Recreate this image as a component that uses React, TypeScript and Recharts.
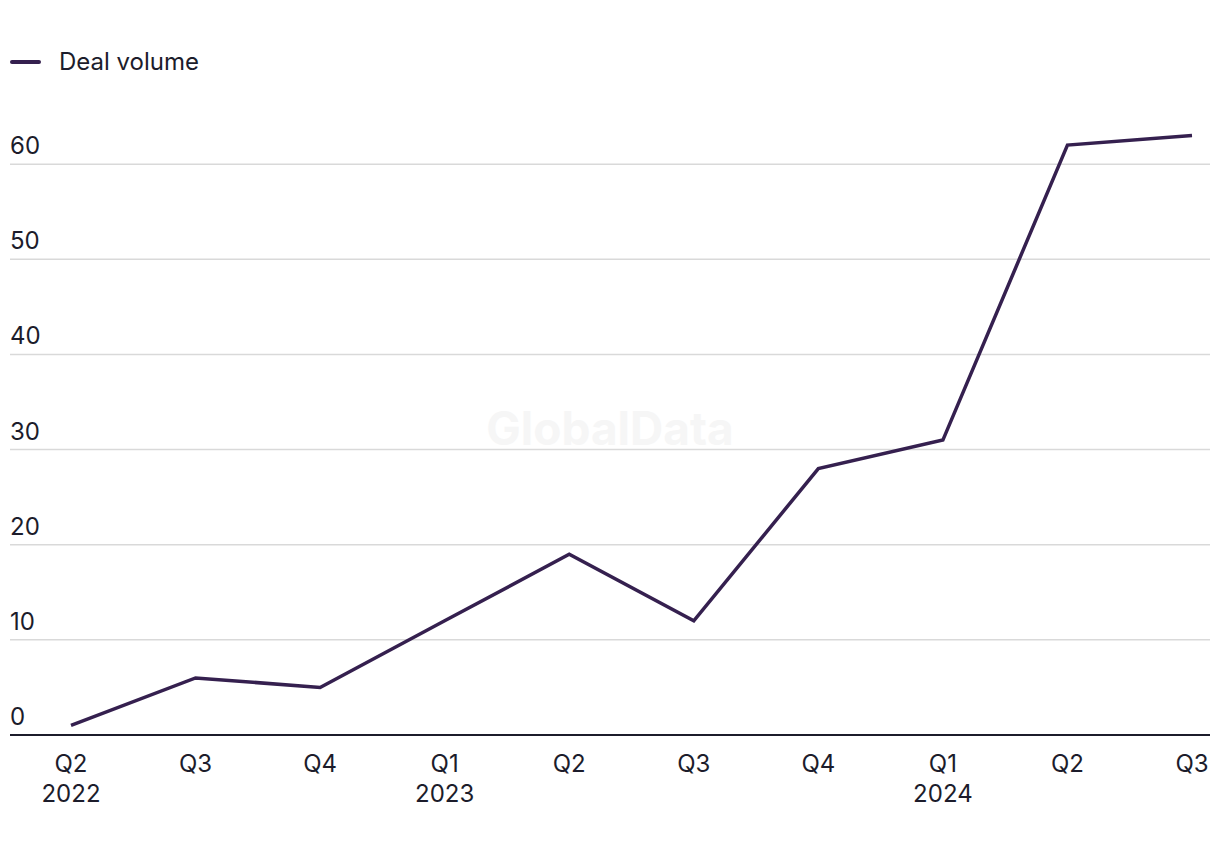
import { CartesianGrid, Line, LineChart, XAxis, YAxis } from 'recharts';

const quarters = ['Q2', 'Q3', 'Q4', 'Q1', 'Q2', 'Q3', 'Q4', 'Q1', 'Q2', 'Q3'];
const years = ['2022', '', '', '2023', '', '', '', '2024', '', ''];
const dealVolume = [1, 6, 5, 12, 19, 12, 28, 31, 62, 63];
const yTicks = [0, 10, 20, 30, 40, 50, 60];

const data = quarters.map((q, i) => ({ quarter: q, year: years[i], volume: dealVolume[i], key: `${q}-${i}` }));

const FONT = 'Inter, "Noto Sans", sans-serif';
const TEXT = '#1c1c2b';
const LINE = '#35204f';

const XTick = ({ x, y, payload }: any) => {
  const row = data[payload.index];
  return (
    <g>
      <text x={x} y={y + 29} textAnchor="middle" fill={TEXT} fontSize={24} fontFamily={FONT}>
        {row?.quarter}
      </text>
      {row?.year ? (
        <text x={x} y={y + 59} textAnchor="middle" fill={TEXT} fontSize={24} fontFamily={FONT}>
          {row.year}
        </text>
      ) : null}
    </g>
  );
};

const YTick = ({ y, payload }: any) => (
  <text x={10} y={y - 10} textAnchor="start" fill={TEXT} fontSize={24} fontFamily={FONT}>
    {payload.value}
  </text>
);

export default function App() {
  return (
    <div style={{ position: 'absolute', left: 0, top: 0, width: 1220, height: 856, background: '#fff' }}>
      <div
        style={{
          position: 'absolute',
          left: 10,
          top: 47,
          display: 'flex',
          alignItems: 'center',
          fontFamily: FONT,
          fontSize: 24,
          color: TEXT,
          zIndex: 1,
        }}
      >
        <span style={{ display: 'inline-block', width: 31, height: 4, borderRadius: 2, background: LINE, marginRight: 18 }} />
        <span>Deal volume</span>
      </div>
      <LineChart width={1220} height={856} data={data} margin={{ top: 69, right: 10, left: 0, bottom: 41 }}>
        <text
          x={610}
          y={445}
          textAnchor="middle"
          fill="#f6f6f6"
          fontSize={46}
          fontWeight={700}
          fontFamily={FONT}
        >
          GlobalData
        </text>
        <CartesianGrid vertical={false} horizontalValues={yTicks} stroke="#d9d9d9" strokeWidth={1.5} />
        <XAxis
          dataKey="key"
          tick={<XTick />}
          tickLine={false}
          axisLine={{ stroke: TEXT, strokeWidth: 2 }}
          interval={0}
          height={80}
          padding={{ left: 61, right: 18 }}
        />
        <YAxis
          type="number"
          domain={[0, 70]}
          ticks={yTicks}
          interval={0}
          width={10}
          tick={<YTick />}
          tickLine={false}
          axisLine={false}
        />
        <Line
          type="linear"
          dataKey="volume"
          stroke={LINE}
          strokeWidth={3.5}
          dot={false}
          activeDot={false}
          isAnimationActive={false}
        />
      </LineChart>
    </div>
  );
}
